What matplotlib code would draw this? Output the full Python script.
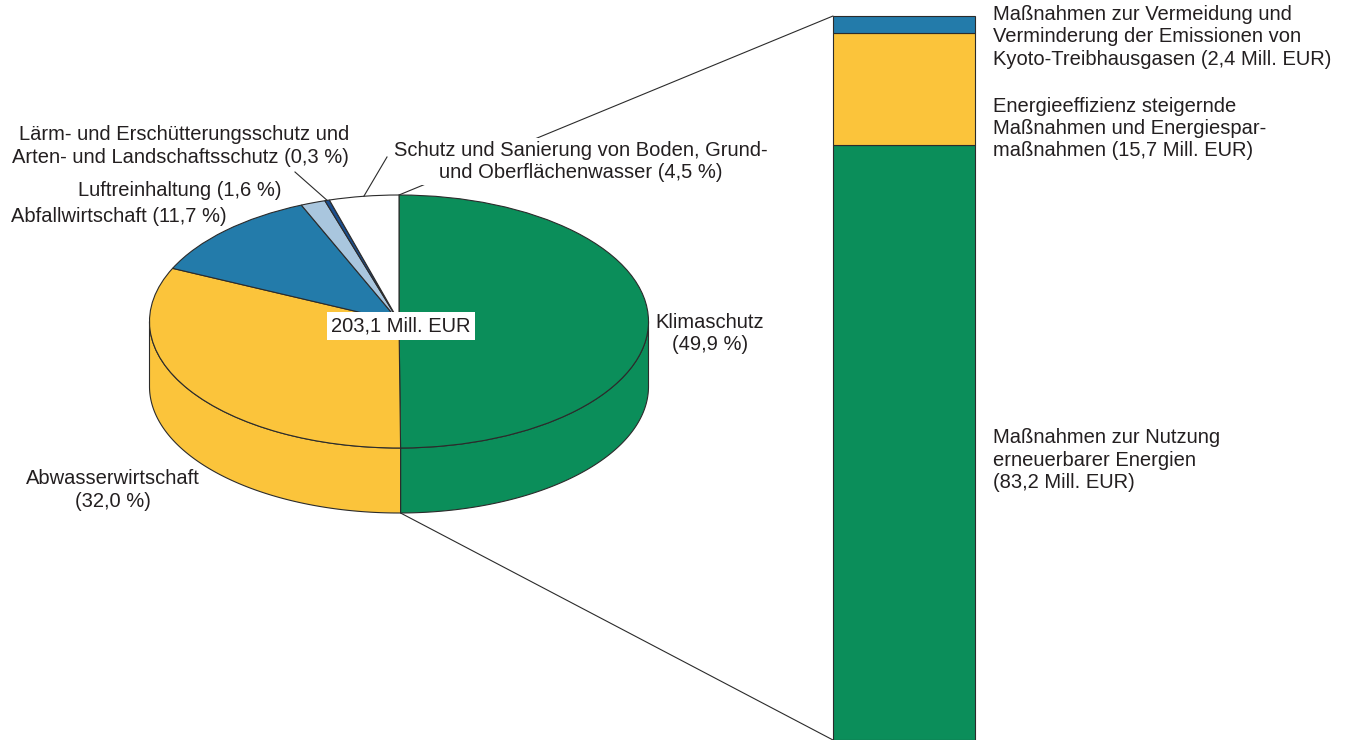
import numpy as np
import matplotlib
matplotlib.use("Agg")
import matplotlib.pyplot as plt
from matplotlib.patches import Wedge, Polygon, ConnectionPatch
from matplotlib.transforms import Affine2D

plt.rcParams['font.family'] = ['Liberation Sans', 'DejaVu Sans']

# data
pie_names = ["Klimaschutz", "Abwasserwirtschaft", "Abfallwirtschaft", "Luftreinhaltung",
             "Lärm- und Erschütterungsschutz und\nArten- und Landschaftsschutz",
             "Schutz und Sanierung von Boden, Grund-\nund Oberflächenwasser"]
pie_shares = [49.9, 32.0, 11.7, 1.6, 0.3, 4.5]
pie_colors = ["#0B8E5A", "#FBC43B", "#237BAA", "#A9C6DE", "#1B4F8F", "#FFFFFF"]
total_mill = 203.1

bar_names = ["Maßnahmen zur Nutzung\nerneuerbarer Energien\n",
             "Energieeffizienz steigernde\nMaßnahmen und Energiespar-\nmaßnahmen ",
             "Maßnahmen zur Vermeidung und\nVerminderung der Emissionen von\nKyoto-Treibhausgasen "]
bar_values = [83.2, 15.7, 2.4]
bar_colors = ["#0B8E5A", "#FBC43B", "#237BAA"]

txt = "#231F20"
edge = "#2B2B2B"
fs = 14.5
ls = 1.22


def de(v):
    return f"{v:.1f}".replace(".", ",")


W, H = 1347, 740
fig = plt.figure(figsize=(W / 100, H / 100), dpi=100)
ax = fig.add_axes([0, 0, 1, 1])
ax.set_xlim(0, W)
ax.set_ylim(H, 0)
ax.axis("off")

# pie geometry (pixels)
cx, cy, rx, ry, depth = 399, 321.5, 249.5, 126.5, 65


def pt(theta, dy=0):
    t = np.radians(theta)
    return cx + rx * np.cos(t), cy - ry * np.sin(t) + dy


# slice angles, clockwise from top
angles = []
start = 90.0
for s in pie_shares:
    end = start - s * 3.6
    angles.append((end, start))
    start = end

# side walls (visible lower half)
for (t1, t2), col in zip(angles, pie_colors):
    lo, hi = max(t1, -180), min(t2, 0)
    if lo >= hi:
        continue
    th = np.linspace(lo, hi, 120)
    top = [pt(t) for t in th]
    bot = [pt(t, depth) for t in th[::-1]]
    ax.add_patch(Polygon(top + bot, closed=True, facecolor=col, edgecolor=edge, lw=0.8, zorder=2))

# top face
tr = Affine2D().scale(rx, -ry).translate(cx, cy) + ax.transData
for (t1, t2), col in zip(angles, pie_colors):
    ax.add_patch(Wedge((0, 0), 1, t1, t2, facecolor=col, edgecolor=edge, lw=0.8,
                       transform=tr, zorder=3))

ax.text(401, 326, f"{de(total_mill)} Mill. EUR", ha="center", va="center", fontsize=fs,
        color=txt, zorder=5, bbox=dict(facecolor="white", edgecolor="none", pad=3))

# pie labels
ax.text(710, 333.5, f"{pie_names[0]}\n({de(pie_shares[0])} %)", ha="center", va="center",
        fontsize=fs, color=txt, linespacing=ls, multialignment="center", zorder=6)
ax.text(113, 490, f"{pie_names[1]}\n({de(pie_shares[1])} %)", ha="center", va="center",
        fontsize=fs, color=txt, linespacing=ls, multialignment="center", zorder=6)
ax.text(227, 217, f"{pie_names[2]} ({de(pie_shares[2])} %)", ha="right", va="center",
        fontsize=fs, color=txt, zorder=6)
ax.text(281, 191, f"{pie_names[3]} ({de(pie_shares[3])} %)", ha="right", va="center",
        fontsize=fs, color=txt, zorder=6)
ax.text(349, 146, f"{pie_names[4]} ({de(pie_shares[4])} %)", ha="right", va="center",
        fontsize=fs, color=txt, linespacing=ls, multialignment="right", zorder=6)
ax.text(581, 161.5, f"{pie_names[5]} ({de(pie_shares[5])} %)", ha="center", va="center",
        fontsize=fs, color=txt, linespacing=ls, multialignment="center", zorder=6,
        bbox=dict(facecolor="white", edgecolor="none", pad=2))

# leader lines for the small slices
for i, end_xy in [(4, (295, 172)), (5, (387, 157))]:
    mid = sum(angles[i]) / 2
    x0, y0 = pt(mid)
    ax.plot([x0, end_xy[0]], [y0, end_xy[1]], color=edge, lw=0.8, zorder=4)

# stacked bar
bax = fig.add_axes([833 / W, 0, 142 / W, (H - 16) / H])
bottom = 0
for v, col in zip(bar_values, bar_colors):
    bax.bar(0, v, bottom=bottom, width=1, color=col, edgecolor=edge, lw=0.8, clip_on=False)
    bottom += v
bax.set_xlim(-0.5, 0.5)
bax.set_ylim(0, sum(bar_values))
bax.axis("off")

# connectors from pie to bar
top_xy = pt(angles[0][1])
bot_xy = pt(angles[0][0], depth)
for xy, yb in [(top_xy, sum(bar_values)), (bot_xy, 0)]:
    con = ConnectionPatch(xyA=xy, coordsA=ax.transData, xyB=(-0.5, yb), coordsB=bax.transData,
                          color=edge, lw=0.8, zorder=1)
    ax.add_artist(con)

# bar labels
for name, v, yc in zip(bar_names, bar_values, [460, 128.5, 37]):
    ax.text(993, yc, f"{name}({de(v)} Mill. EUR)", ha="left", va="center", fontsize=fs,
            color=txt, linespacing=ls, zorder=6)

fig.savefig("out.png", dpi=100)
